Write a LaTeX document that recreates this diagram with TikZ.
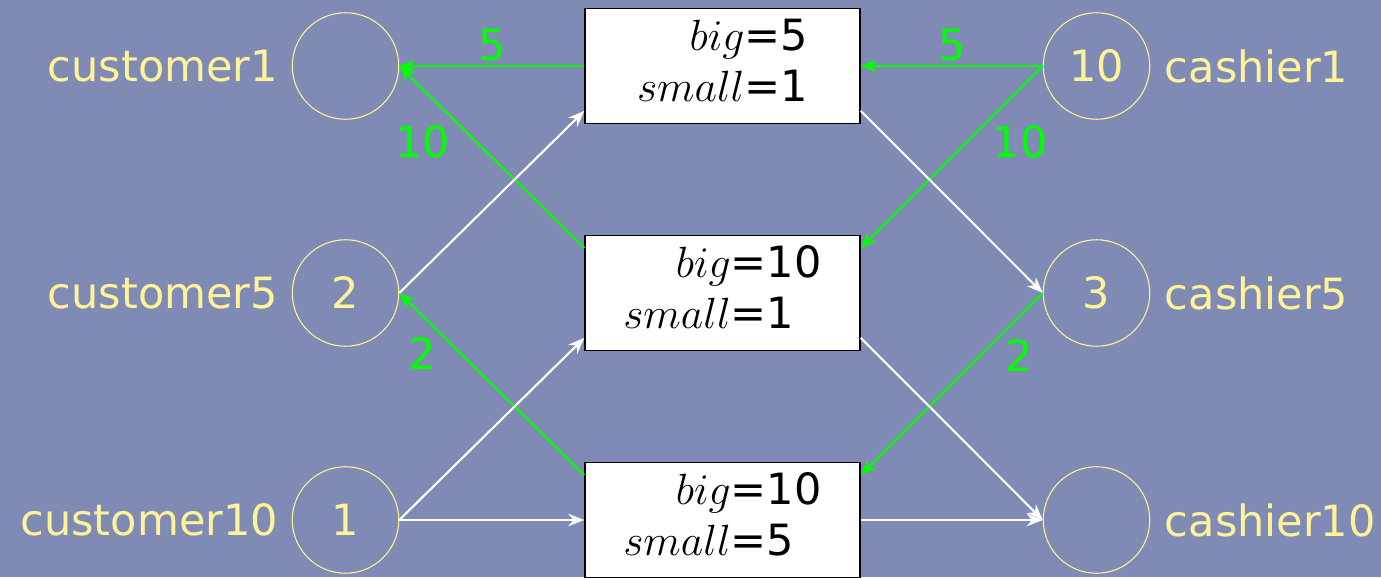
\documentclass[tikz,border=0pt]{standalone}
\usepackage{fontspec}
\setmainfont{DejaVu Sans}
\usepackage{tikz}
\usetikzlibrary{positioning, arrows.meta}
\definecolor{slide}{RGB}{127,139,180}
\definecolor{chalk}{RGB}{255,243,153}
\definecolor{paid}{RGB}{0,255,0}

\begin{document}
\begin{tikzpicture}[
        font=\fontsize{24.5}{28.5}\selectfont,
        party/.style={circle, draw=chalk, line width=0.6pt, minimum size=2.13cm, inner sep=0pt, text=chalk},
        who/.style={text=chalk, left=0.15cm of #1},
        where/.style={text=chalk, right=0.17cm of #1},
        till/.style={draw=black, fill=white, line width=0.8pt, minimum width=5.5cm, minimum height=2.3cm, inner sep=0pt},
        pay/.style={draw=paid, line width=1.2pt, -{Stealth[length=0.32cm,width=0.25cm]}},
        give/.style={draw=white, line width=1.2pt, -{Stealth[length=0.32cm,width=0.25cm]}},
        amount/.style={text=paid, inner sep=2pt}
    ]
        \fill[slide] (0,0) rectangle (27.62,11.54);
        \useasboundingbox (0,0) rectangle (27.62,11.54);

        % customers
        \node[party] (cust1) at (6.91,10.22) {};
        \node[party] (cust5) at (6.91,5.68) {2};
        \node[party] (cust10) at (6.91,1.14) {1};
        \node[who=cust1] (cust1name) {customer1};
        \node[who=cust5] (cust5name) {customer5};
        \node[who=cust10] (cust10name) {customer10};

        % cashiers
        \node[party] (cash1) at (21.93,10.22) {10};
        \node[party] (cash5) at (21.93,5.68) {3};
        \node[party] (cash10) at (21.93,1.14) {};
        \node[where=cash1] (cash1name) {cashier1};
        \node[where=cash5] (cash5name) {cashier5};
        \node[where=cash10] (cash10name) {cashier10};

        % change boxes
        \node[till] (till1) at (14.45,10.22) {\begin{tabular}{r@{}l}$big$&=5\\ $small$&=1\end{tabular}};
        \node[till] (till2) at (14.45,5.68) {\begin{tabular}{r@{}l}$big$&=10\\ $small$&=1\end{tabular}};
        \node[till] (till3) at (14.45,1.14) {\begin{tabular}{r@{}l}$big$&=10\\ $small$&=5\end{tabular}};

        % left side
        \draw[pay] (till1.west) -- node[amount, above] (amt1) {5} (cust1.east);
        \draw[pay] (till2.162) -- node[amount, pos=0.7, below left] (amt2) {10} (cust1.east);
        \draw[give] (cust5.east) -- (till1.198);
        \draw[pay] (till3.162) -- node[amount, pos=0.78, below left] (amt3) {2} (cust5.east);
        \draw[give] (cust10.east) -- (till2.198);
        \draw[give] (cust10.east) -- (till3.west);

        % right side
        \draw[pay] (cash1.west) -- node[amount, above] (amt4) {5} (till1.east);
        \draw[pay] (cash1.west) -- node[amount, pos=0.3, below right] (amt5) {10} (till2.18);
        \draw[give] (till1.342) -- (cash5.west);
        \draw[pay] (cash5.west) -- node[amount, pos=0.23, below right] (amt6) {2} (till3.18);
        \draw[give] (till2.342) -- (cash10.west);
        \draw[give] (till3.east) -- (cash10.west);
    \end{tikzpicture}
\end{document}
